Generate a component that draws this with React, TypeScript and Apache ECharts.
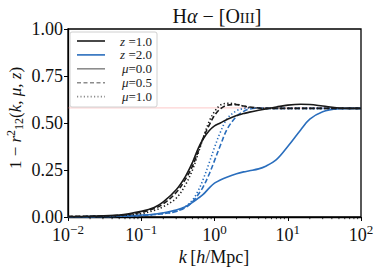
import React, { useEffect, useRef } from "react";
import * as echarts from "echarts";

const kGrid = [0.01, 0.02, 0.05, 0.1, 0.15, 0.2, 0.3, 0.4, 0.5, 0.6, 0.7, 0.85, 1.0, 1.2, 1.5, 2, 2.5, 3, 4, 5, 7, 10, 15, 20, 30, 50, 70, 100];

const z1mu0 = [0.003, 0.004, 0.01, 0.03, 0.05, 0.08, 0.145, 0.215, 0.29, 0.365, 0.415, 0.46, 0.485, 0.5, 0.52, 0.54, 0.55, 0.558, 0.568, 0.575, 0.585, 0.595, 0.6, 0.598, 0.59, 0.58, 0.578, 0.578];
const z1mu05 = [0.003, 0.004, 0.009, 0.025, 0.045, 0.07, 0.13, 0.2, 0.27, 0.35, 0.42, 0.49, 0.54, 0.575, 0.595, 0.598, 0.59, 0.585, 0.58, 0.578, 0.578, 0.578, 0.578, 0.578, 0.578, 0.578, 0.578, 0.578];
const z1mu1 = [0.002, 0.003, 0.007, 0.018, 0.035, 0.055, 0.1, 0.17, 0.25, 0.34, 0.42, 0.51, 0.56, 0.595, 0.605, 0.6, 0.59, 0.583, 0.579, 0.578, 0.578, 0.578, 0.578, 0.578, 0.578, 0.578, 0.578, 0.578];
const z2mu0 = [0.001, 0.002, 0.004, 0.01, 0.015, 0.022, 0.037, 0.055, 0.078, 0.1, 0.12, 0.155, 0.18, 0.197, 0.213, 0.23, 0.24, 0.246, 0.256, 0.27, 0.305, 0.375, 0.463, 0.52, 0.56, 0.576, 0.578, 0.578];
const z2mu05 = [0.001, 0.002, 0.004, 0.008, 0.013, 0.018, 0.03, 0.05, 0.08, 0.12, 0.16, 0.23, 0.3, 0.38, 0.47, 0.535, 0.562, 0.574, 0.579, 0.578, 0.578, 0.578, 0.578, 0.578, 0.578, 0.578, 0.578, 0.578];
const z2mu1 = [0.001, 0.002, 0.004, 0.008, 0.013, 0.018, 0.03, 0.055, 0.09, 0.14, 0.2, 0.29, 0.37, 0.45, 0.525, 0.565, 0.577, 0.58, 0.58, 0.578, 0.578, 0.578, 0.578, 0.578, 0.578, 0.578, 0.578, 0.578];

const asymptote = 0.58;
const xTickExps = [-2, -1, 0, 1, 2];
const minorTicks: number[] = [];
for (let e = -2; e < 2; e++) for (let m = 2; m <= 9; m++) minorTicks.push(m * Math.pow(10, e));

const legendItems = [
  { label: "z", val: " =1.0", color: "#1a1a1a", dash: "solid" },
  { label: "z", val: " =2.0", color: "#2a6ebd", dash: "solid" },
  { label: "μ", val: "=0.0", color: "#8c8c8c", dash: "solid" },
  { label: "μ", val: "=0.5", color: "#8c8c8c", dash: [4, 2.5] },
  { label: "μ", val: "=1.0", color: "#8c8c8c", dash: [1.2, 2.2] },
];

const BLACK = "#1a1a1a";
const BLUE = "#2a6ebd";
const SERIF = "Liberation Serif";

function mk(vals: number[]) {
  return kGrid.map((k, i) => [k, vals[i]]);
}

export default function App() {
  const ref = useRef<HTMLDivElement>(null);
  useEffect(() => {
    if (!ref.current) return;
    const chart = echarts.init(ref.current, undefined, { renderer: "svg" });
    const lineSeries = (vals: number[], color: string, type: any, z: number) => ({
      type: "line",
      data: mk(vals),
      smooth: 0.35,
      showSymbol: false,
      lineStyle: { color, width: 1.6, type },
      z,
    });
    const graphics: any[] = [
      {
        type: "rect",
        shape: { x: 70, y: 32, width: 87, height: 75, r: 2 },
        style: { fill: "rgba(255,255,255,0.9)", stroke: "#d0d0d0", lineWidth: 1 },
        z: 100,
      },
      {
        type: "text",
        x: 214,
        y: 257,
        style: {
          text: "{i|k} {n|[}{i|h}{n|/Mpc]}",
          align: "center",
          verticalAlign: "middle",
          rich: {
            i: { fontFamily: SERIF, fontStyle: "italic", fontSize: 18, fill: "#111" },
            n: { fontFamily: SERIF, fontSize: 18, fill: "#111" },
          },
        },
      },
      {
        type: "text",
        x: 15,
        y: 118,
        rotation: Math.PI / 2,
        style: {
          text: "{n|1 − }{i|r}{s|2}{b|12}{n|(}{i|k, μ, z}{n|)}",
          align: "center",
          verticalAlign: "middle",
          rich: {
            i: { fontFamily: SERIF, fontStyle: "italic", fontSize: 17, fill: "#111" },
            n: { fontFamily: SERIF, fontSize: 17, fill: "#111" },
            s: { fontFamily: SERIF, fontSize: 12, fill: "#111", padding: [0, 0, 9, 0] },
            b: { fontFamily: SERIF, fontSize: 12, fill: "#111", padding: [7, 0, 0, 0] },
          },
        },
      },
    ];
    legendItems.forEach((it, i) => {
      const y = 41 + i * 13.9;
      graphics.push({
        type: "line",
        shape: { x1: 77, y1: y, x2: 105, y2: y },
        style: { stroke: it.color, lineWidth: 1.6, lineDash: it.dash === "solid" ? null : it.dash },
        z: 101,
      });
      graphics.push({
        type: "text",
        x: 152,
        y: y,
        style: {
          text: "{i|" + it.label + "}{n|" + it.val + "}",
          align: "right",
          verticalAlign: "middle",
          rich: {
            i: { fontFamily: SERIF, fontStyle: "italic", fontSize: 13, fill: "#222" },
            n: { fontFamily: SERIF, fontSize: 13, fill: "#222" },
          },
        },
        z: 101,
      });
    });

    chart.setOption({
      animation: false,
      backgroundColor: "#fff",
      title: {
        text: "{n|H}{i|α}{n| − [O}{s|III}{n|]}",
        left: 212,
        textAlign: "center",
        top: 1,
        textStyle: {
          fontWeight: "normal",
          rich: {
            n: { fontFamily: SERIF, fontSize: 20, fontWeight: "normal", color: "#111" },
            i: { fontFamily: SERIF, fontSize: 20, fontStyle: "italic", fontWeight: "normal", color: "#111" },
            s: { fontFamily: SERIF, fontSize: 15, fontWeight: "normal", color: "#111", padding: [3, 0, 0, 0] },
          },
        },
      },
      grid: { left: 68, right: 18, top: 29, bottom: 54, show: true, borderColor: "#000", borderWidth: 1.3, outerBoundsMode: "none", containLabel: false },
      xAxis: {
        type: "log",
        logBase: 10,
        min: 0.01,
        max: 100,
        interval: 1,
        axisLine: { onZero: false, lineStyle: { color: "#000", width: 1.3 } },
        axisTick: { show: true, inside: false, length: 4, lineStyle: { color: "#000", width: 1 } },
        splitLine: { show: false },
        axisLabel: {
          margin: 3,
          showMinLabel: true,
          showMaxLabel: true,
          formatter: (v: number) => {
            const e = Math.round(Math.log10(v));
            return xTickExps.includes(e) ? "{b|10}{s|" + (e < 0 ? "−" + -e : String(e)) + "}" : "";
          },
          rich: {
            b: { fontFamily: SERIF, fontSize: 18, color: "#111", padding: [6, 0, 0, 0] },
            s: { fontFamily: SERIF, fontSize: 13, color: "#111", padding: [0, 0, 6, 0] },
          },
        },
      },
      yAxis: {
        type: "value",
        min: 0,
        max: 1,
        interval: 0.25,
        axisLine: { show: true, lineStyle: { color: "#000", width: 1.3 } },
        axisTick: { show: true, inside: false, length: 4, lineStyle: { color: "#000", width: 1 } },
        splitLine: { show: false },
        axisLabel: {
          margin: 5,
          formatter: (v: number) => v.toFixed(2),
          fontFamily: SERIF,
          fontSize: 18,
          color: "#111",
        },
      },
      graphic: graphics,
      series: [
        {
          type: "line",
          data: [[0.01, asymptote], [100, asymptote]],
          showSymbol: false,
          lineStyle: { color: "rgba(250,110,110,0.3)", width: 1.2 },
          z: 1,
        },
        lineSeries(z2mu0, BLUE, "solid", 3),
        lineSeries(z2mu05, BLUE, [5, 2.5], 3),
        lineSeries(z2mu1, BLUE, [1.3, 2.3], 3),
        lineSeries(z1mu0, BLACK, "solid", 4),
        lineSeries(z1mu05, BLACK, [5, 2.5], 4),
        lineSeries(z1mu1, BLACK, [1.3, 2.3], 4),
        {
          type: "custom",
          data: minorTicks.map((k) => [k, 0]),
          clip: false,
          renderItem: (params: any, api: any) => {
            const p = api.coord([api.value(0), 0]);
            return {
              type: "line",
              shape: { x1: p[0], y1: p[1], x2: p[0], y2: p[1] + 2.2 },
              style: { stroke: "#000", lineWidth: 0.8 },
            };
          },
          z: 5,
        },
      ],
    });
    return () => chart.dispose();
  }, []);
  return <div ref={ref} style={{ width: 379, height: 271, position: "absolute", left: 0, top: 0 }} />;
}
